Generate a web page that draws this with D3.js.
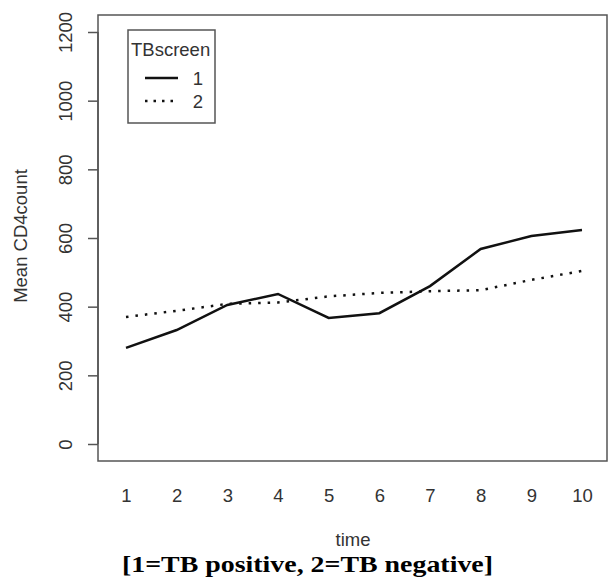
<!DOCTYPE html>
<html>
<head>
<meta charset="utf-8">
<script src="https://cdn.jsdelivr.net/npm/d3@7"></script>
<style>
  body { margin: 0; background: #fff; }
  text { font-family: "Liberation Sans", Arial, sans-serif; fill: #333; }
</style>
</head>
<body>
<svg id="main-svg"></svg>
<script>
let width = 610;
let height = 579;
let fontSize = '18.5px';

// data
let times = [1, 2, 3, 4, 5, 6, 7, 8, 9, 10];
let tbPositive = [280, 332, 405, 437, 367, 381, 460, 568, 606, 623];
let tbNegative = [370, 388, 408, 412, 430, 440, 445, 448, 478, 504];
let yTicks = [0, 200, 400, 600, 800, 1000, 1200];
let seriesNames = ['1', '2'];

let box = { left: 98, top: 15, right: 607, bottom: 461 };

let svg = d3.select('#main-svg')
  .attr('width', width)
  .attr('height', height);

let x = d3.scaleLinear().domain([1, 10]).range([126, 582]);
let y = d3.scaleLinear().domain([0, 1200]).range([444, 32]);

// plot frame
svg.append('rect')
  .attr('x', box.left)
  .attr('y', box.top)
  .attr('width', box.right - box.left)
  .attr('height', box.bottom - box.top)
  .style('fill', 'none')
  .style('stroke', '#555')
  .style('stroke-width', 1.5);

// y axis
let yAxis = svg.append('g')
  .attr('transform', `translate(${box.left} 0)`)
  .call(d3.axisLeft(y).tickValues(yTicks).tickFormat(d3.format('d')).tickSize(10).tickSizeOuter(0));
yAxis.select('.domain')
  .attr('d', `M0,${y(0)}V${y(1200)}`)
  .style('stroke', '#555')
  .style('stroke-width', 1.5);
yAxis.selectAll('.tick line').style('stroke', '#555').style('stroke-width', 1.5);
yAxis.selectAll('.tick text')
  .attr('x', null).attr('dy', null)
  .attr('transform', 'translate(-26 0) rotate(-90)')
  .attr('text-anchor', 'middle')
  .style('font-size', fontSize)
  .style('font-family', '"Liberation Sans", Arial, sans-serif')
  .style('fill', '#333');

// x axis labels only
let xAxis = svg.append('g')
  .attr('transform', `translate(0 ${box.bottom})`)
  .call(d3.axisBottom(x).tickValues(times).tickFormat(d3.format('d')).tickSize(0));
xAxis.select('.domain').remove();
xAxis.selectAll('.tick text')
  .attr('y', 41)
  .attr('dy', null)
  .style('font-size', fontSize)
  .style('font-family', '"Liberation Sans", Arial, sans-serif')
  .style('fill', '#333');

// axis titles
svg.append('text')
  .attr('transform', 'translate(27 236) rotate(-90)')
  .attr('text-anchor', 'middle')
  .style('font-size', fontSize)
  .text('Mean CD4count');

svg.append('text')
  .attr('x', 353).attr('y', 546)
  .attr('text-anchor', 'middle')
  .style('font-size', fontSize)
  .text('time');

svg.append('text')
  .attr('x', 122).attr('y', 572)
  .attr('textLength', 371)
  .attr('lengthAdjust', 'spacingAndGlyphs')
  .style('font-family', '"Liberation Serif", "Times New Roman", serif')
  .style('font-weight', 'bold')
  .style('font-size', '24px')
  .style('fill', '#000')
  .text('[1=TB positive, 2=TB negative]');

// lines
let line = d3.line()
  .x((d, i) => x(times[i]))
  .y(d => y(d));

svg.append('path').datum(tbPositive)
  .attr('d', line)
  .style('fill', 'none')
  .style('stroke', '#111')
  .style('stroke-width', 2.5);

svg.append('path').datum(tbNegative)
  .attr('d', line)
  .style('fill', 'none')
  .style('stroke', '#111')
  .style('stroke-width', 2.5)
  .style('stroke-dasharray', '2.5,7');

// legend
let legend = svg.append('g');
legend.append('rect')
  .attr('x', 128).attr('y', 30)
  .attr('width', 87).attr('height', 93)
  .style('fill', '#fff')
  .style('stroke', '#555')
  .style('stroke-width', 1.5);
legend.append('text')
  .attr('x', 131).attr('y', 56)
  .style('font-size', fontSize)
  .text('TBscreen');

let dashes = ['none', '2.5,6'];
seriesNames.forEach((name, i) => {
  let ly = 78 + i * 23;
  legend.append('line')
    .attr('x1', 145).attr('x2', 178)
    .attr('y1', ly).attr('y2', ly)
    .style('stroke', '#111')
    .style('stroke-width', 2.5)
    .style('stroke-dasharray', dashes[i]);
  legend.append('text')
    .attr('x', 198).attr('y', ly + 7)
    .attr('text-anchor', 'middle')
    .style('font-size', fontSize)
    .text(name);
});
</script>
</body>
</html>
